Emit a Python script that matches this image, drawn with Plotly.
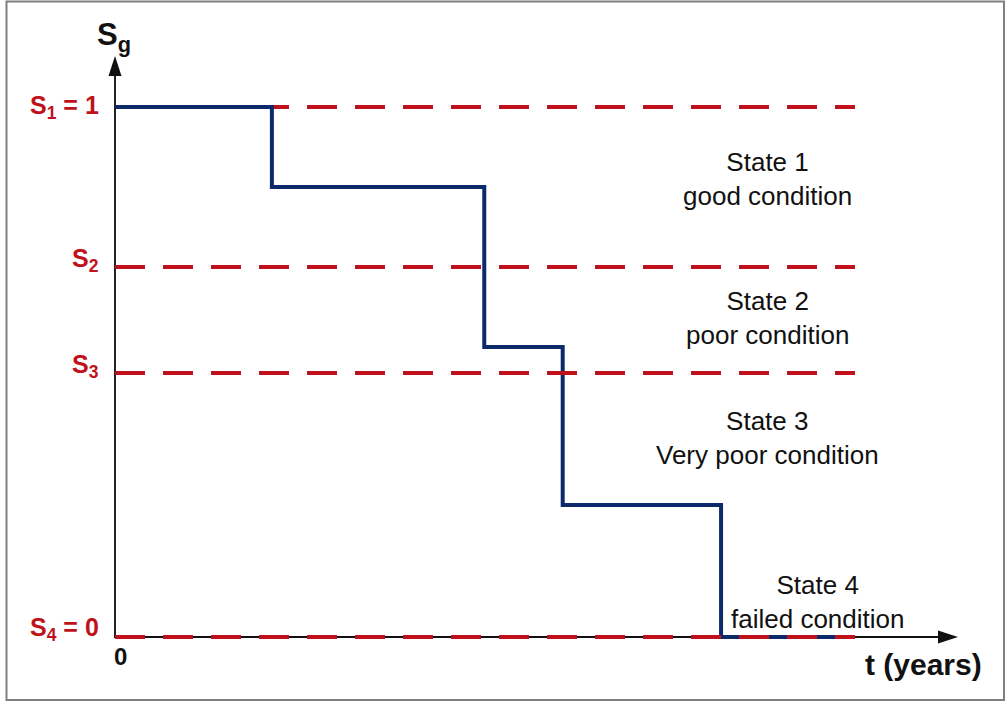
import plotly.graph_objects as go

# ---- data ----
t_steps = [0, 2.12, 4.99, 6.05, 8.19, 10.0]          # years (arbitrary scale)
s_steps = [1.0, 0.849, 0.547, 0.249, 0.0, 0.0]        # condition index S_g
threshold_names = ["S1", "S2", "S3", "S4"]
threshold_values = [1.0, 0.698, 0.498, 0.0]
threshold_labels = ["S<sub>1</sub> = 1", "S<sub>2</sub>", "S<sub>3</sub>", "S<sub>4</sub> = 0"]
t_end = 10.0
state_labels = ["State 1<br>good condition", "State 2<br>poor condition",
                "State 3<br>Very poor condition", "State 4<br>failed condition"]
state_t = [8.82, 8.82, 8.82, 9.49]
state_s = [0.864, 0.602, 0.375, 0.066]

W, H = 1005, 702
X0PX, XSC = 115, 74.0     # pixel of t=0, px per unit
Y0PX, YSC = 637, 530.0    # pixel of s=0, px per unit
xr = [-X0PX / XSC, (W - X0PX) / XSC]
yr = [-(H - Y0PX) / YSC, Y0PX / YSC]

def px(xp):
    return xp / W

def py(yp):
    return 1 - yp / H

RED = "#c0121c"
BLUE = "#0c2a6a"
FONT = "Arial, Liberation Sans, sans-serif"

fig = go.Figure()

dash = "30px,18px"
# S1 line below the step line
fig.add_trace(go.Scatter(x=[0, t_end], y=[threshold_values[0]] * 2, mode="lines",
                         line=dict(color=RED, width=4, dash=dash), hoverinfo="skip"))
fig.add_trace(go.Scatter(x=t_steps, y=s_steps, mode="lines", line_shape="hv",
                         line=dict(color=BLUE, width=4), hoverinfo="skip"))
for v in threshold_values[1:]:
    fig.add_trace(go.Scatter(x=[0, t_end], y=[v, v], mode="lines",
                             line=dict(color=RED, width=4, dash=dash), hoverinfo="skip"))

shapes = []
# axes
shapes.append(dict(type="line", xref="paper", yref="paper", x0=px(115), x1=px(115),
                   y0=py(638), y1=py(74), line=dict(color="#222222", width=2), layer="below"))
shapes.append(dict(type="line", xref="paper", yref="paper", x0=px(114), x1=px(940),
                   y0=py(637), y1=py(637), line=dict(color="#111111", width=2), layer="below"))
# arrow heads
shapes.append(dict(type="path", xref="paper", yref="paper",
                   path=f"M {px(108.5)},{py(76)} L {px(115)},{py(56)} L {px(121.5)},{py(76)} Z",
                   fillcolor="#111111", line=dict(width=0)))
shapes.append(dict(type="path", xref="paper", yref="paper",
                   path=f"M {px(938)},{py(630.5)} L {px(958)},{py(637)} L {px(938)},{py(643.5)} Z",
                   fillcolor="#111111", line=dict(width=0)))
# frame
shapes.append(dict(type="rect", xref="paper", yref="paper", x0=px(6.5), x1=px(1004),
                   y0=py(700), y1=py(1.5), line=dict(color="#808080", width=2)))

annotations = []
label_y_px = [107, 260, 366, 629]
for lab, yp in zip(threshold_labels, label_y_px):
    annotations.append(dict(xref="paper", yref="paper", x=px(101), y=py(yp),
                            xanchor="right", yanchor="middle", showarrow=False,
                            text=f"<b>{lab}</b>", font=dict(family=FONT, size=25, color=RED)))
for lab, tx, sy in zip(state_labels, state_t, state_s):
    annotations.append(dict(xref="x", yref="y", x=tx, y=sy, xanchor="center", yanchor="middle",
                            showarrow=False, text=lab, align="center",
                            font=dict(family=FONT, size=26, color="#111111")))
annotations.append(dict(xref="paper", yref="paper", x=px(95), y=py(37), xanchor="left",
                        yanchor="middle", showarrow=False, text="<b>S<sub>g</sub></b>",
                        font=dict(family=FONT, size=31, color="#111111")))
annotations.append(dict(xref="paper", yref="paper", x=px(120), y=py(656), xanchor="center",
                        yanchor="middle", showarrow=False, text="<b>0</b>",
                        font=dict(family=FONT, size=24, color="#111111")))
annotations.append(dict(xref="paper", yref="paper", x=px(923), y=py(664), xanchor="center",
                        yanchor="middle", showarrow=False, text="<b>t (years)</b>",
                        font=dict(family=FONT, size=30, color="#111111")))

fig.update_layout(
    width=W, height=H, margin=dict(l=0, r=0, t=0, b=0, pad=0),
    paper_bgcolor="white", plot_bgcolor="white", showlegend=False,
    xaxis=dict(range=xr, visible=False, fixedrange=True),
    yaxis=dict(range=yr, visible=False, fixedrange=True),
    shapes=shapes, annotations=annotations,
)

fig.write_html("out.html", config={"displayModeBar": False},
               post_script="document.body.style.margin='0';document.body.style.overflow='hidden';")
